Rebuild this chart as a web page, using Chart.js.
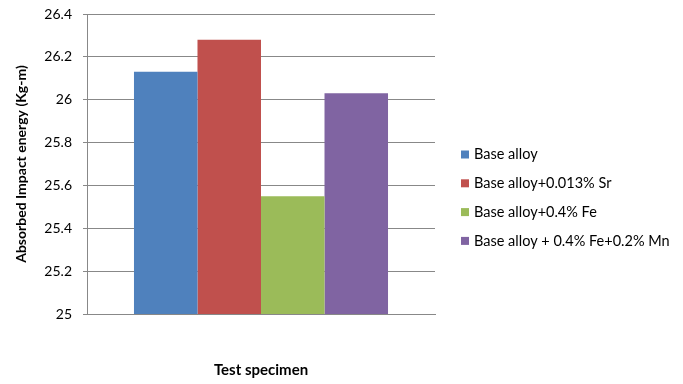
<!DOCTYPE html>
<html>
<head>
<meta charset="utf-8">
<script src="https://cdn.jsdelivr.net/npm/chart.js@4"></script>
<style>
  html, body { margin: 0; padding: 0; background: #fff; }
  #wrap { width: 683px; height: 384px; }
</style>
</head>
<body>
<div id="wrap"><canvas id="c" width="683" height="384"></canvas></div>
<script>
// Impact test results: one group, one bar per alloy composition
const categories = [''];
const seriesNames = [
  'Base alloy',
  'Base alloy+0.013% Sr',
  'Base alloy+0.4% Fe',
  'Base alloy + 0.4% Fe+0.2% Mn'
];
const seriesValues = [26.13, 26.28, 25.55, 26.03];
const seriesColors = ['#4F81BD', '#C0504D', '#9BBB59', '#8064A2'];
const yMin = 25, yMax = 26.4, yStep = 0.2;
const xTitle = 'Test specimen';
const yTitle = 'Absorbed Impact energy (Kg-m)';

const FONT = 'Lato, "Open Sans", sans-serif';

const datasets = seriesNames.map((name, i) => ({
  label: name,
  data: [seriesValues[i]],
  backgroundColor: seriesColors[i],
  borderWidth: 0,
  categoryPercentage: 0.73,
  barPercentage: 1.0
}));

// Legend drawn at the right side of the canvas
const sideLegend = {
  id: 'sideLegend',
  afterDraw(chart) {
    const ctx = chart.ctx;
    ctx.save();
    ctx.font = '14.5px ' + FONT;
    ctx.textBaseline = 'middle';
    ctx.textAlign = 'left';
    chart.data.datasets.forEach((ds, i) => {
      const cy = 154.5 + i * 28.8;
      ctx.fillStyle = ds.backgroundColor;
      ctx.fillRect(461, cy - 4, 8, 8);
      ctx.fillStyle = '#000';
      ctx.fillText(ds.label, 474, cy);
    });
    ctx.restore();
  }
};

new Chart(document.getElementById('c'), {
  type: 'bar',
  data: { labels: categories, datasets },
  options: {
    responsive: false,
    animation: false,
    devicePixelRatio: 1,
    layout: { padding: { left: 0, top: 14, right: 248, bottom: 0 } },
    plugins: {
      legend: { display: false },
      tooltip: { enabled: false }
    },
    scales: {
      x: {
        grid: { display: false },
        border: { display: true, color: '#888', width: 1 },
        ticks: { display: false },
        title: {
          display: true,
          text: xTitle,
          color: '#000',
          font: { family: FONT, size: 15, weight: 'bold' },
          padding: { top: 0, bottom: 5 }
        },
        afterFit(scale) { scale.height = 70; }
      },
      y: {
        min: yMin,
        max: yMax,
        ticks: {
          stepSize: yStep,
          color: '#000',
          font: { family: FONT, size: 14 },
          padding: 11,
          callback: v => String(Number(v.toFixed(1)))
        },
        grid: { color: '#888', lineWidth: 1, tickLength: 4, drawTicks: true },
        border: { display: true, color: '#888', width: 1 },
        title: {
          display: true,
          text: yTitle,
          color: '#000',
          font: { family: FONT, size: 14, weight: 'bold' },
          padding: { top: 13, bottom: 0 }
        },
        afterFit(scale) {
          scale.width = 87;
          scale.paddingTop = 0;
          scale.paddingBottom = 0;
        }
      }
    }
  },
  plugins: [sideLegend]
});
</script>
</body>
</html>
